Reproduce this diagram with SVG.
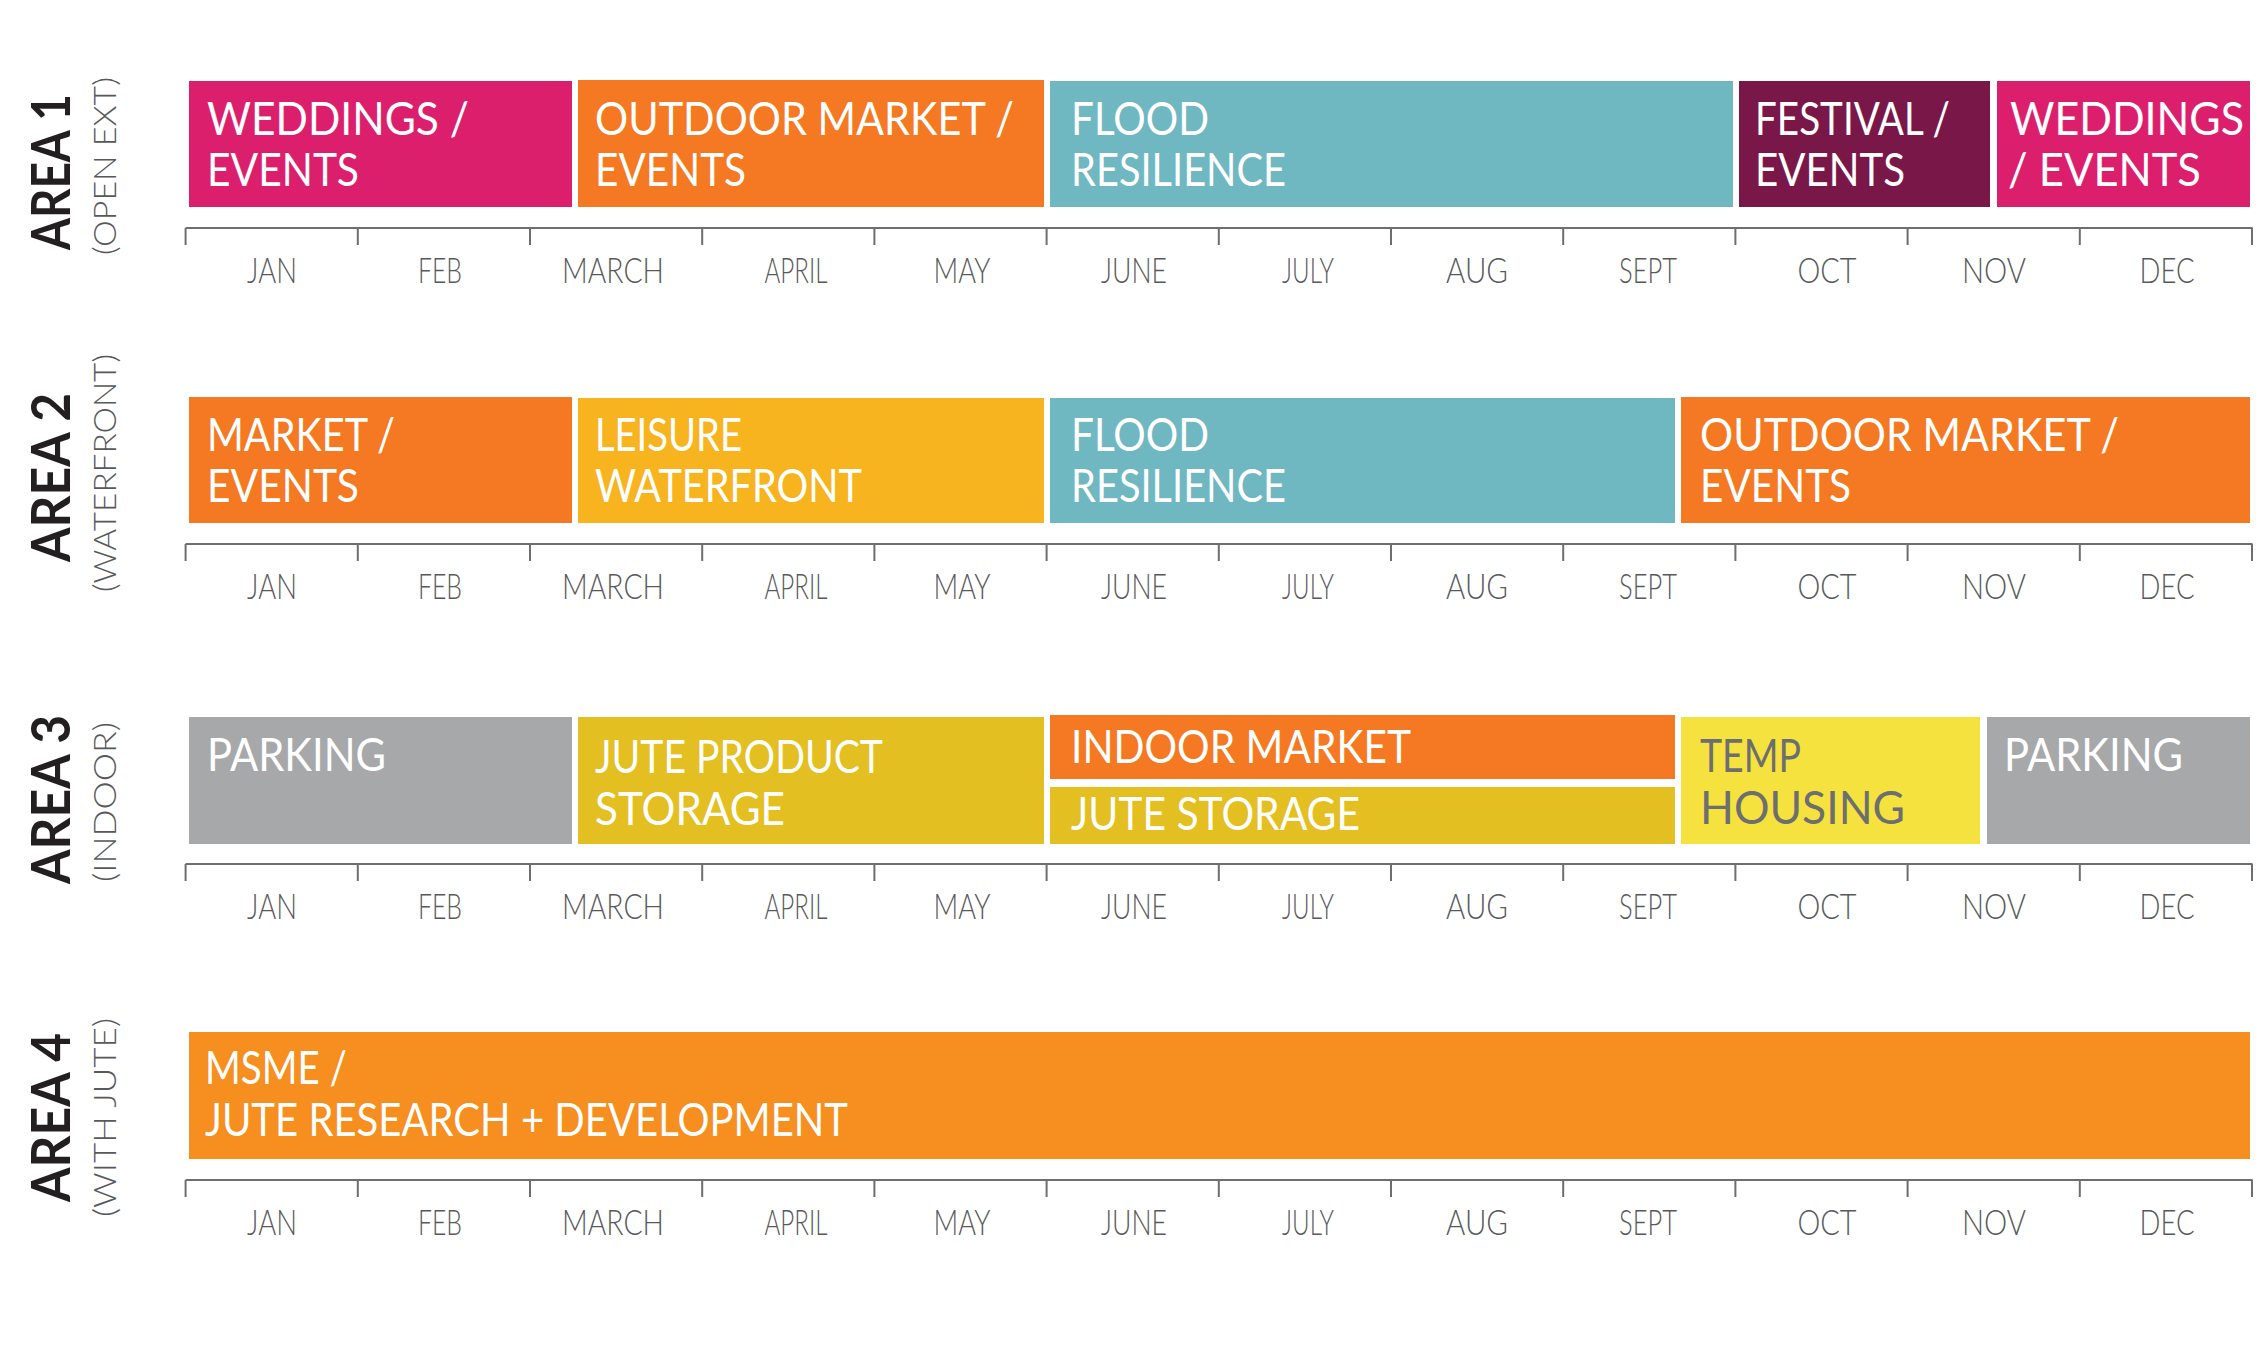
<svg xmlns="http://www.w3.org/2000/svg" width="2259" height="1348" viewBox="0 0 2259 1348">
<style>
.bg{fill:#ffffff}
.lbl{font-family:Lato,"Open Sans","Liberation Sans",sans-serif;font-size:46px;font-weight:400;fill:#ffffff}
.lbl.dk{fill:#6d6e70}
.mon{font-family:Lato,"Open Sans","Liberation Sans",sans-serif;font-size:35px;font-weight:300;fill:#58595b;text-anchor:middle}
.area{font-family:Lato,"Liberation Sans",sans-serif;font-size:54px;font-weight:700;fill:#231f20}
.sub{font-family:Lato,"Liberation Sans",sans-serif;font-size:32px;font-weight:300;fill:#58595b}
.axis{stroke:#6d6e70;stroke-width:2;fill:none}
.pink{fill:#dc1f6d}.orange{fill:#f47922}.teal{fill:#6fb8c1}.plum{fill:#7a1749}
.leis{fill:#f7b41f}.jute{fill:#e3bf21}.temp{fill:#f6e23e}.gray{fill:#a7a8aa}.or4{fill:#f68e20}
</style>
<defs>
<g id="axis">
<path class="axis" d="M185.6,0H2252.5M185.6,0v17M357.8,0v17M530,0v17M702.2,0v17M874.4,0v17M1046.6,0v17M1218.8,0v17M1391,0v17M1563.2,0v17M1735.4,0v17M1907.6,0v17M2079.8,0v17M2252,0v17"/>
<text class="mon" x="272" y="55" textLength="50" lengthAdjust="spacingAndGlyphs">JAN</text>
<text class="mon" x="440" y="55" textLength="44" lengthAdjust="spacingAndGlyphs">FEB</text>
<text class="mon" x="613" y="55" textLength="102" lengthAdjust="spacingAndGlyphs">MARCH</text>
<text class="mon" x="796" y="55" textLength="63" lengthAdjust="spacingAndGlyphs">APRIL</text>
<text class="mon" x="962" y="55" textLength="57" lengthAdjust="spacingAndGlyphs">MAY</text>
<text class="mon" x="1134" y="55" textLength="66" lengthAdjust="spacingAndGlyphs">JUNE</text>
<text class="mon" x="1308" y="55" textLength="52" lengthAdjust="spacingAndGlyphs">JULY</text>
<text class="mon" x="1477" y="55" textLength="62" lengthAdjust="spacingAndGlyphs">AUG</text>
<text class="mon" x="1648" y="55" textLength="58" lengthAdjust="spacingAndGlyphs">SEPT</text>
<text class="mon" x="1827" y="55" textLength="59" lengthAdjust="spacingAndGlyphs">OCT</text>
<text class="mon" x="1994" y="55" textLength="64" lengthAdjust="spacingAndGlyphs">NOV</text>
<text class="mon" x="2167" y="55" textLength="55" lengthAdjust="spacingAndGlyphs">DEC</text>
</g>
</defs>
<rect class="bg" x="0" y="0" width="2259" height="1348"/>

<g id="connectors">
<use href="#axis" x="0" y="228"/>
<use href="#axis" x="0" y="544"/>
<use href="#axis" x="0" y="864"/>
<use href="#axis" x="0" y="1180"/>
</g>

<!-- Row labels -->
<g id="area1-label">
<text class="area" transform="translate(70,250) rotate(-90)" textLength="156" lengthAdjust="spacingAndGlyphs">AREA 1</text>
<text class="sub" transform="translate(116,255) rotate(-90)" textLength="178" lengthAdjust="spacingAndGlyphs">(OPEN EXT)</text>
</g>
<g id="area2-label">
<text class="area" transform="translate(70,562) rotate(-90)" textLength="169" lengthAdjust="spacingAndGlyphs">AREA 2</text>
<text class="sub" transform="translate(116,592) rotate(-90)" textLength="238" lengthAdjust="spacingAndGlyphs">(WATERFRONT)</text>
</g>
<g id="area3-label">
<text class="area" transform="translate(70,884) rotate(-90)" textLength="169" lengthAdjust="spacingAndGlyphs">AREA 3</text>
<text class="sub" transform="translate(116,882) rotate(-90)" textLength="160" lengthAdjust="spacingAndGlyphs">(INDOOR)</text>
</g>
<g id="area4-label">
<text class="area" transform="translate(70,1202) rotate(-90)" textLength="169" lengthAdjust="spacingAndGlyphs">AREA 4</text>
<text class="sub" transform="translate(116,1217) rotate(-90)" textLength="199" lengthAdjust="spacingAndGlyphs">(WITH JUTE)</text>
</g>

<!-- Row 1 -->
<g id="r1-weddings">
<rect class="pink" x="189" y="81" width="383" height="126"/>
<text class="lbl" x="207" y="135" textLength="262" lengthAdjust="spacingAndGlyphs">WEDDINGS /</text>
<text class="lbl" x="207" y="186" textLength="152" lengthAdjust="spacingAndGlyphs">EVENTS</text>
</g>
<g id="r1-outdoor-market">
<rect class="orange" x="578" y="80" width="466" height="127"/>
<text class="lbl" x="595" y="135" textLength="419" lengthAdjust="spacingAndGlyphs">OUTDOOR MARKET /</text>
<text class="lbl" x="595" y="186" textLength="151" lengthAdjust="spacingAndGlyphs">EVENTS</text>
</g>
<g id="r1-flood">
<rect class="teal" x="1050" y="81" width="683" height="126"/>
<text class="lbl" x="1071" y="135" textLength="138" lengthAdjust="spacingAndGlyphs">FLOOD</text>
<text class="lbl" x="1071" y="186" textLength="215" lengthAdjust="spacingAndGlyphs">RESILIENCE</text>
</g>
<g id="r1-festival">
<rect class="plum" x="1739" y="81" width="251" height="126"/>
<text class="lbl" x="1755" y="135" textLength="195" lengthAdjust="spacingAndGlyphs">FESTIVAL /</text>
<text class="lbl" x="1755" y="186" textLength="150" lengthAdjust="spacingAndGlyphs">EVENTS</text>
</g>
<g id="r1-weddings-2">
<rect class="pink" x="1997" y="81" width="253" height="126"/>
<text class="lbl" x="2010" y="135" textLength="234" lengthAdjust="spacingAndGlyphs">WEDDINGS</text>
<text class="lbl" x="2008" y="186" textLength="193" lengthAdjust="spacingAndGlyphs">/ EVENTS</text>
</g>

<!-- Row 2 -->
<g id="r2-market">
<rect class="orange" x="189" y="397" width="383" height="126"/>
<text class="lbl" x="207" y="451" textLength="188" lengthAdjust="spacingAndGlyphs">MARKET /</text>
<text class="lbl" x="207" y="502" textLength="152" lengthAdjust="spacingAndGlyphs">EVENTS</text>
</g>
<g id="r2-leisure">
<rect class="leis" x="578" y="398" width="466" height="125"/>
<text class="lbl" x="595" y="451" textLength="147" lengthAdjust="spacingAndGlyphs">LEISURE</text>
<text class="lbl" x="595" y="502" textLength="267" lengthAdjust="spacingAndGlyphs">WATERFRONT</text>
</g>
<g id="r2-flood">
<rect class="teal" x="1050" y="398" width="625" height="125"/>
<text class="lbl" x="1071" y="451" textLength="138" lengthAdjust="spacingAndGlyphs">FLOOD</text>
<text class="lbl" x="1071" y="502" textLength="215" lengthAdjust="spacingAndGlyphs">RESILIENCE</text>
</g>
<g id="r2-outdoor-market">
<rect class="orange" x="1681" y="397" width="569" height="126"/>
<text class="lbl" x="1700" y="451" textLength="419" lengthAdjust="spacingAndGlyphs">OUTDOOR MARKET /</text>
<text class="lbl" x="1700" y="502" textLength="151" lengthAdjust="spacingAndGlyphs">EVENTS</text>
</g>

<!-- Row 3 -->
<g id="r3-parking">
<rect class="gray" x="189" y="717" width="383" height="127"/>
<text class="lbl" x="207" y="771" textLength="179" lengthAdjust="spacingAndGlyphs">PARKING</text>
</g>
<g id="r3-jute-product">
<rect class="jute" x="578" y="717" width="466" height="127"/>
<text class="lbl" x="595" y="773" textLength="288" lengthAdjust="spacingAndGlyphs">JUTE PRODUCT</text>
<text class="lbl" x="595" y="825" textLength="190" lengthAdjust="spacingAndGlyphs">STORAGE</text>
</g>
<g id="r3-indoor-market">
<rect class="orange" x="1050" y="715" width="625" height="64"/>
<text class="lbl" x="1071" y="763" textLength="340" lengthAdjust="spacingAndGlyphs">INDOOR MARKET</text>
</g>
<g id="r3-jute-storage">
<rect class="jute" x="1050" y="787" width="625" height="57"/>
<text class="lbl" x="1071" y="830" textLength="289" lengthAdjust="spacingAndGlyphs">JUTE STORAGE</text>
</g>
<g id="r3-temp-housing">
<rect class="temp" x="1681" y="717" width="299" height="127"/>
<text class="lbl dk" x="1700" y="772" textLength="101" lengthAdjust="spacingAndGlyphs">TEMP</text>
<text class="lbl dk" x="1700" y="824" textLength="205" lengthAdjust="spacingAndGlyphs">HOUSING</text>
</g>
<g id="r3-parking-2">
<rect class="gray" x="1987" y="717" width="263" height="127"/>
<text class="lbl" x="2004" y="771" textLength="179" lengthAdjust="spacingAndGlyphs">PARKING</text>
</g>

<!-- Row 4 -->
<g id="r4-msme">
<rect class="or4" x="189" y="1032" width="2061" height="127"/>
<text class="lbl" x="205" y="1084" textLength="142" lengthAdjust="spacingAndGlyphs">MSME /</text>
<text class="lbl" x="205" y="1136" textLength="643" lengthAdjust="spacingAndGlyphs">JUTE RESEARCH + DEVELOPMENT</text>
</g>
</svg>
